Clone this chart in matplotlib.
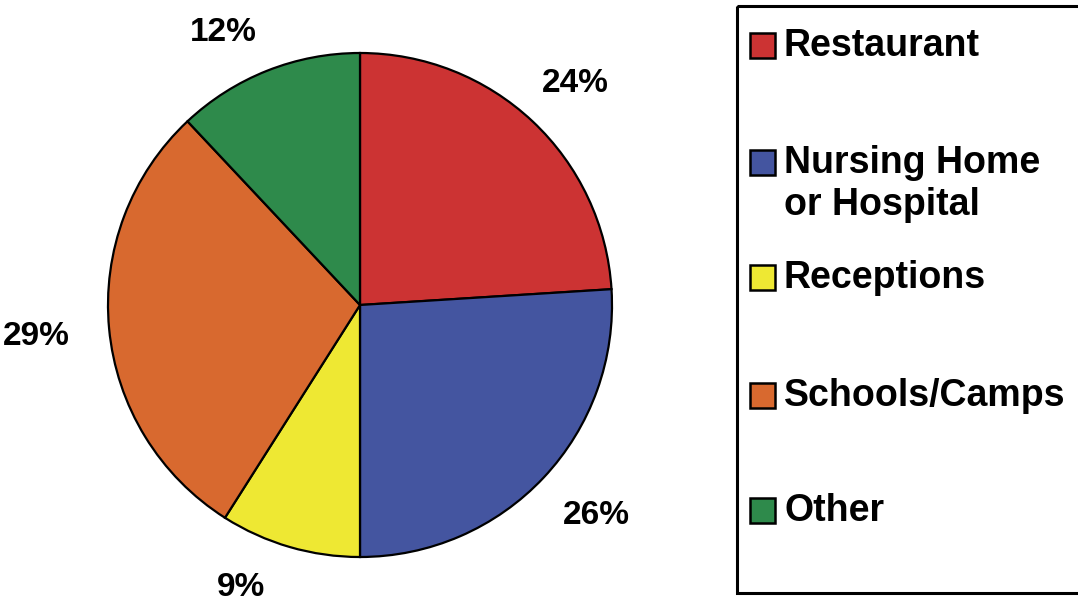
import matplotlib.pyplot as plt
from matplotlib.patches import Rectangle

categories = ["Restaurant", "Nursing Home\nor Hospital", "Receptions", "Schools/Camps", "Other"]
shares = [24, 26, 9, 29, 12]
colors = ["#CC3333", "#4455A0", "#EEE833", "#D8692F", "#2E8A4B"]
# nudges for the percentage labels, in pixels (right, down)
label_nudge = [(3, 4), (10, -2), (-33, -15), (-15, 2), (-23, 16)]

W, H = 1078, 605
fig = plt.figure(figsize=(W / 100, H / 100), dpi=100)
fig.patch.set_facecolor("white")

# pie: centre (360, 305) px, radius 252 px
cx, cy, r = 360, 305, 252
half = 330
ax = fig.add_axes([(cx - half) / W, (H - cy - half) / H, 2 * half / W, 2 * half / H])
wedges, _, pcts = ax.pie(shares, colors=colors, startangle=90, counterclock=False, radius=1,
                         autopct=lambda p: f"{p:.0f}%", pctdistance=1.23,
                         wedgeprops=dict(edgecolor="black", linewidth=1.6),
                         textprops=dict(fontsize=24, fontweight="bold", family="Liberation Sans"))
for t, (dx, dy) in zip(pcts, label_nudge):
    x, y = t.get_position()
    t.set_position((x + dx / r, y - dy / r))
ax.set_xlim(-half / r, half / r)
ax.set_ylim(-half / r, half / r)
ax.set_aspect("auto")
ax.axis("off")

# legend panel, drawn in pixel coordinates
lg = fig.add_axes([0, 0, 1, 1])
lg.set_xlim(0, W)
lg.set_ylim(H, 0)
lg.axis("off")
lg.add_patch(Rectangle((737, 6), 360, 587, fill=False, edgecolor="black", linewidth=2.2))

rows = [45, 162, 277, 395, 510]
for label, col, y in zip(categories, colors, rows):
    lg.add_patch(Rectangle((750, y - 12), 25, 25, facecolor=col, edgecolor="black", linewidth=1.8))
    lg.text(784, y - 17, label, fontsize=27, fontweight="bold", family="Liberation Sans",
            va="top", ha="left", linespacing=1.2)

fig.savefig("out.png", dpi=100, facecolor="white")
